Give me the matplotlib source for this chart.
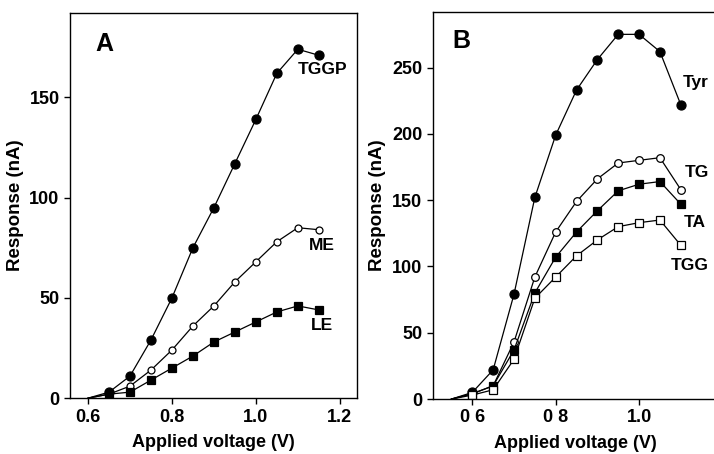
import matplotlib
matplotlib.use("Agg")
import matplotlib.pyplot as plt

plt.rcParams['font.family'] = ['Liberation Sans', 'DejaVu Sans']
plt.rcParams['font.weight'] = 'bold'

# panel A
volt_a = [0.60, 0.65, 0.70, 0.75, 0.80, 0.85, 0.90, 0.95, 1.00, 1.05, 1.10, 1.15]
tggp = [0, 3, 11, 29, 50, 75, 95, 117, 139, 162, 174, 171]
me = [0, 2, 6, 14, 24, 36, 46, 58, 68, 78, 85, 84]
le = [0, 2, 3, 9, 15, 21, 28, 33, 38, 43, 46, 44]

# panel B
volt_b = [0.55, 0.60, 0.65, 0.70, 0.75, 0.80, 0.85, 0.90, 0.95, 1.00, 1.05, 1.10]
tyr = [0, 5, 22, 79, 152, 199, 233, 256, 275, 275, 262, 222]
tg = [0, 4, 10, 43, 92, 126, 149, 166, 178, 180, 182, 158]
ta = [0, 4, 10, 37, 80, 107, 126, 142, 157, 162, 164, 147]
tgg = [0, 3, 7, 30, 76, 92, 108, 120, 130, 133, 135, 116]

fig = plt.figure(figsize=(7.14, 4.54), dpi=100)
ax1 = fig.add_axes([0.098, 0.123, 0.402, 0.848])
ax2 = fig.add_axes([0.606, 0.121, 0.40, 0.853])


def series(ax, x, y, marker, filled, ms):
    fc = 'black' if filled else 'white'
    ax.plot(x, y, color='black', lw=0.9, marker=marker, ms=ms,
            mfc=fc, mec='black', mew=0.9, markevery=list(range(1, len(x))))


series(ax1, volt_a, tggp, 'o', True, 6.5)
series(ax1, volt_a, me, 'o', False, 5)
series(ax1, volt_a, le, 's', True, 6)

series(ax2, volt_b, tyr, 'o', True, 6.5)
series(ax2, volt_b, tg, 'o', False, 5.5)
series(ax2, volt_b, ta, 's', True, 6)
series(ax2, volt_b, tgg, 's', False, 5.5)

ax1.set_xlim(0.557, 1.241)
ax1.set_ylim(0, 192)
ax1.set_xticks([0.6, 0.8, 1.0, 1.2])
ax1.set_xticklabels(['0.6', '0.8', '1.0', '1.2'])
ax1.set_yticks([0, 50, 100, 150])

ax2.set_xlim(0.505, 1.19)
ax2.set_ylim(0, 292)
ax2.set_xticks([0.6, 0.8, 1.0])
ax2.set_xticklabels(['0 6', '0 8', '1.0'])
ax2.set_yticks([0, 50, 100, 150, 200, 250])
ax2.spines['right'].set_visible(False)

for ax in (ax1, ax2):
    ax.tick_params(direction='out', length=4, width=1, labelsize=13)
    for s in ax.spines.values():
        s.set_linewidth(1)
    ax.set_xlabel('Applied voltage (V)', fontsize=13, fontweight='bold')
    ax.xaxis.set_label_coords(0.5, -0.094)
    ax.set_ylabel('Response (nA)', fontsize=13.5, fontweight='bold', labelpad=4)

ax1.text(0.12, 0.92, 'A', transform=ax1.transAxes, fontsize=18, fontweight='bold',
         ha='center', va='center')
ax2.text(0.10, 0.925, 'B', transform=ax2.transAxes, fontsize=18, fontweight='bold',
         ha='center', va='center')

lab = dict(fontsize=12.5, fontweight='bold', ha='center', va='center')
ax1.text(1.158, 164, 'TGGP', **lab)
ax1.text(1.158, 76, 'ME', **lab)
ax1.text(1.158, 36, 'LE', **lab)

ax2.text(1.135, 239, 'Tyr', **lab)
ax2.text(1.138, 171, 'TG', **lab)
ax2.text(1.133, 133, 'TA', **lab)
ax2.text(1.121, 101, 'TGG', **lab)

fig.savefig('out.png', dpi=100)
